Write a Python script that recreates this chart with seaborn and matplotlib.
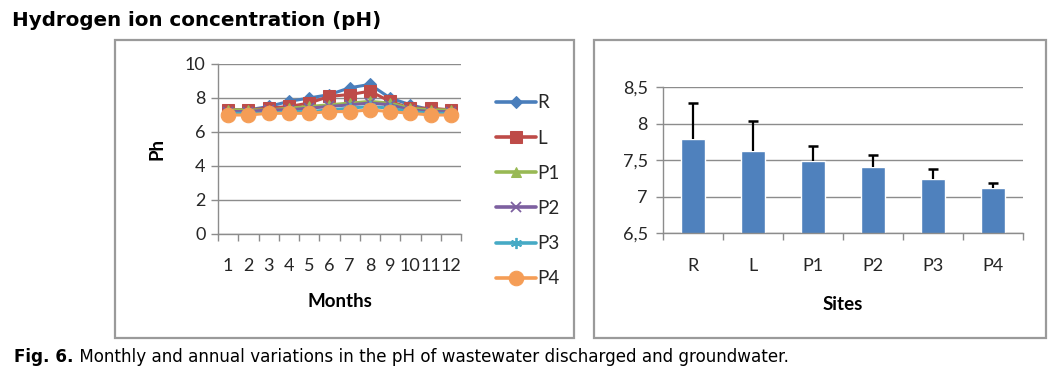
import numpy as np
import pandas as pd
import matplotlib
matplotlib.use("Agg")
import matplotlib.pyplot as plt
import matplotlib.patches as mpatches
from matplotlib.ticker import FixedLocator, FuncFormatter
from matplotlib.text import Annotation
import seaborn as sns

# ---------------- data ----------------
months = [1, 2, 3, 4, 5, 6, 7, 8, 9, 10, 11, 12]
ph_R  = [7.3, 7.3, 7.5, 7.8, 8.0, 8.2, 8.6, 8.8, 8.0, 7.6, 7.3, 7.2]
ph_L  = [7.3, 7.3, 7.4, 7.5, 7.7, 8.1, 8.2, 8.4, 7.8, 7.4, 7.4, 7.3]
ph_P1 = [7.3, 7.3, 7.3, 7.4, 7.5, 7.6, 7.7, 7.8, 7.7, 7.4, 7.3, 7.3]
ph_P2 = [7.2, 7.2, 7.3, 7.3, 7.4, 7.5, 7.6, 7.7, 7.6, 7.3, 7.2, 7.2]
ph_P3 = [7.1, 7.1, 7.1, 7.2, 7.2, 7.3, 7.4, 7.5, 7.4, 7.2, 7.1, 7.1]
ph_P4 = [7.0, 7.0, 7.1, 7.1, 7.1, 7.2, 7.2, 7.3, 7.2, 7.1, 7.0, 7.0]

sites = ["R", "L", "P1", "P2", "P3", "P4"]
site_means = [7.79, 7.63, 7.48, 7.40, 7.24, 7.11]
site_err = [0.49, 0.41, 0.21, 0.17, 0.14, 0.08]

series = {"R": ph_R, "L": ph_L, "P1": ph_P1, "P2": ph_P2, "P3": ph_P3, "P4": ph_P4}
df_lines = pd.DataFrame(
    [(m, s, v) for s, vals in series.items() for m, v in zip(months, vals)],
    columns=["Month", "Site", "pH"],
)
df_bars = pd.DataFrame({"Site": sites, "pH": site_means})

# ---------------- style ----------------
sns.set_style("white")
plt.rcParams["font.family"] = ["Lato", "DejaVu Sans"]

colors = {"R": "#4A7EBB", "L": "#BE4B48", "P1": "#98B954",
          "P2": "#7D60A0", "P3": "#46AAC5", "P4": "#F59D56"}
markers = {"R": "D", "L": "s", "P1": "^", "P2": "x", "P3": (6, 2, 0), "P4": "o"}
msizes = {"R": 6.5, "L": 9, "P1": 7, "P2": 7, "P3": 8, "P4": 10.5}
grid_c = "#8C8C8C"
txt_c = "#262626"
tick_fs = 13
lab_fs = 13.5

W, H = 1054, 373
fig = plt.figure(figsize=(W / 100, H / 100), dpi=100)


def px_axes(x0, y0, x1, y1):
    return fig.add_axes([x0 / W, 1 - y1 / H, (x1 - x0) / W, (y1 - y0) / H])


# panel boxes
for (x0, y0, x1, y1) in [(115, 40, 574, 338), (594, 40, 1046, 338)]:
    fig.patches.append(mpatches.Rectangle(
        (x0 / W, 1 - y1 / H), (x1 - x0) / W, (y1 - y0) / H,
        transform=fig.transFigure, fill=False, edgecolor="#9A9A9A", lw=1.6))


def style_line(line, s):
    c = colors[s]
    line.set_color(c)
    line.set_marker(markers[s])
    line.set_markersize(msizes[s])
    line.set_markeredgecolor(c)
    line.set_markerfacecolor(c)
    line.set_markeredgewidth(1.3 if s in ("P2", "P3") else 0.75)


# ---------------- left: line chart ----------------
ax1 = px_axes(218, 64, 461, 234)
sns.lineplot(data=df_lines, x="Month", y="pH", hue="Site", hue_order=sites,
             palette=colors, lw=2.2, ax=ax1, legend=True)
for line, s in zip(ax1.lines, sites):
    style_line(line, s)

ax1.set_xlim(0.5, 12.5)
ax1.set_ylim(0, 10)
ax1.set_yticks([0, 2, 4, 6, 8, 10])
ax1.set_xticks(months)
ax1.set_xticklabels([str(m) for m in months])
ax1.xaxis.set_minor_locator(FixedLocator(np.arange(0.5, 13, 1)))
ax1.tick_params(axis="x", which="major", length=0, pad=17, labelsize=tick_fs, colors=txt_c)
ax1.tick_params(axis="x", which="minor", length=5, width=1, color=grid_c, direction="out", bottom=True)
ax1.tick_params(axis="y", length=5, width=1, color=grid_c, direction="out", left=True,
                labelsize=tick_fs, labelcolor=txt_c, pad=4)
ax1.grid(axis="y", color=grid_c, lw=1)
ax1.set_axisbelow(True)
for sp in ["top", "right"]:
    ax1.spines[sp].set_visible(False)
for sp in ["left", "bottom"]:
    ax1.spines[sp].set_color(grid_c)
    ax1.spines[sp].set_linewidth(1)
ax1.set_xlabel("Months", fontsize=lab_fs, fontweight="bold", labelpad=14, color="black")
ax1.set_ylabel("Ph", fontsize=lab_fs, fontweight="bold", labelpad=14, color="black")

handles, labels = ax1.get_legend_handles_labels()
ax1.get_legend().remove()
for h, s in zip(handles, labels):
    style_line(h, s)
    h.set_linewidth(2.6)
leg = fig.legend(handles, labels, loc="upper left",
                 bbox_to_anchor=(487 / W, 1 - 85 / H), frameon=False,
                 fontsize=13.5, labelspacing=0.97, handlelength=2.1,
                 handletextpad=0.1, borderpad=0, labelcolor=txt_c)

# ---------------- right: bar chart ----------------
ax2 = px_axes(663, 87, 1023, 233)
sns.barplot(data=df_bars, x="Site", y="pH", color="#4F81BD", saturation=1,
            width=0.39, ax=ax2, errorbar=None)
xpos = np.arange(len(sites))
tops = np.array(site_means) + np.array(site_err)
ax2.vlines(xpos, site_means, tops, color="black", lw=1.6, zorder=3)
ax2.plot(xpos, tops, ls="none", marker="_", ms=7, mew=1.8, color="black", zorder=3)
ax2.set_ylim(6.5, 8.5)
ax2.set_xlim(-0.5, 5.5)
ax2.set_yticks([6.5, 7, 7.5, 8, 8.5])
ax2.yaxis.set_major_formatter(FuncFormatter(lambda v, p: ("%g" % v).replace(".", ",")))
ax2.xaxis.set_minor_locator(FixedLocator(np.arange(-0.5, 6, 1)))
ax2.tick_params(axis="x", which="major", length=0, pad=18, labelsize=tick_fs, colors=txt_c)
ax2.tick_params(axis="x", which="minor", length=5, width=1, color=grid_c, direction="out", bottom=True)
ax2.tick_params(axis="y", length=5, width=1, color=grid_c, direction="out", left=True,
                labelsize=tick_fs, labelcolor=txt_c, pad=6)
ax2.grid(axis="y", color=grid_c, lw=1)
ax2.set_axisbelow(True)
for sp in ["top", "right"]:
    ax2.spines[sp].set_visible(False)
for sp in ["left", "bottom"]:
    ax2.spines[sp].set_color(grid_c)
    ax2.spines[sp].set_linewidth(1)
ax2.set_xlabel("Sites", fontsize=lab_fs, fontweight="bold", labelpad=16, color="black")
ax2.set_ylabel("")

# ---------------- title & caption ----------------
fig.text(12 / W, 1 - 20 / H, "Hydrogen ion concentration (pH)",
         family=["DejaVu Sans"], fontsize=14.3, fontweight="bold",
         va="center", ha="left", color="black")
cap_family = ["DejaVu Sans"]
t1 = fig.text(14 / W, 1 - 357 / H, "Fig. 6.", family=cap_family, color="black",
              fontsize=12.1, fontweight="bold", va="center", ha="left")
a = Annotation(" Monthly and annual variations in the pH of wastewater discharged and groundwater.",
               xy=(1, 0.5), xycoords=t1, va="center", ha="left",
               family=cap_family, fontsize=12.1, color="black")
fig.add_artist(a)

fig.savefig("out.png", dpi=100)
